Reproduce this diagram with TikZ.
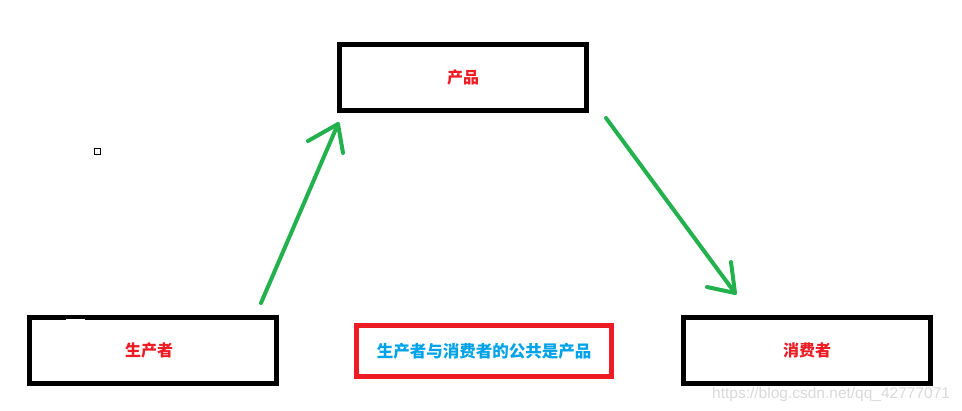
\documentclass[tikz,border=0pt]{standalone}
\usepackage{fontspec}
\setmainfont{Liberation Sans}
\newfontfamily\cjk{Noto Sans CJK SC}
\definecolor{pgreen}{HTML}{22B14C}
\definecolor{pred}{HTML}{ED1C24}
\definecolor{pblue}{HTML}{00A2E8}
\definecolor{wmark}{HTML}{DADADA}
\begin{document}
\begin{tikzpicture}[x=1pt,y=-1pt,
  blackbox/.style={draw=black,line width=5pt,minimum width=247pt,minimum height=66pt,inner sep=0pt,
    font=\cjk\bfseries\fontsize{16}{16}\selectfont,text=pred},
  notebox/.style={draw=pred,line width=5pt,minimum width=255pt,minimum height=51pt,inner sep=0pt,
    font=\cjk\bfseries\fontsize{16.5}{16.5}\selectfont,text=pblue},
  garrow/.style={draw=pgreen,line width=4pt,line cap=round,line join=round}]
\useasboundingbox (0,0) rectangle (962,411);
\fill[white] (0,0) rectangle (962,411);
\node[blackbox] (prod) at (463,77.5) {产品};
\node[blackbox] (prodr) at (153,350.5) {\hspace*{-8pt}生产者};
\node[blackbox] (cons) at (807,350.5) {消费者};
\node[notebox] (note) at (484,351) {生产者与消费者的公共是产品};
\fill[white] (66,318.8) rectangle (85,320);
\node[draw=black,line width=1pt,minimum size=6pt,inner sep=0pt] (sq) at (97.5,151.5) {};
\coordinate (a1s) at (261,303);
\coordinate (a1t) at (338,124);
\coordinate (a1l) at (308,141);
\coordinate (a1r) at (343,153);
\draw[garrow] (a1s) -- (a1t);
\draw[garrow] (a1l) -- (a1t) -- (a1r);
\coordinate (a2s) at (606,118);
\coordinate (a2t) at (735,293);
\coordinate (a2l) at (707,287);
\coordinate (a2r) at (731,262);
\draw[garrow] (a2s) -- (a2t);
\draw[garrow] (a2l) -- (a2t) -- (a2r);
\node[anchor=base west,inner sep=0pt,text=wmark,font=\fontsize{15.5}{15.5}\selectfont] (wm) at (712,399) {https://blog.csdn.net/qq\_42777071};
\end{tikzpicture}
\end{document}
